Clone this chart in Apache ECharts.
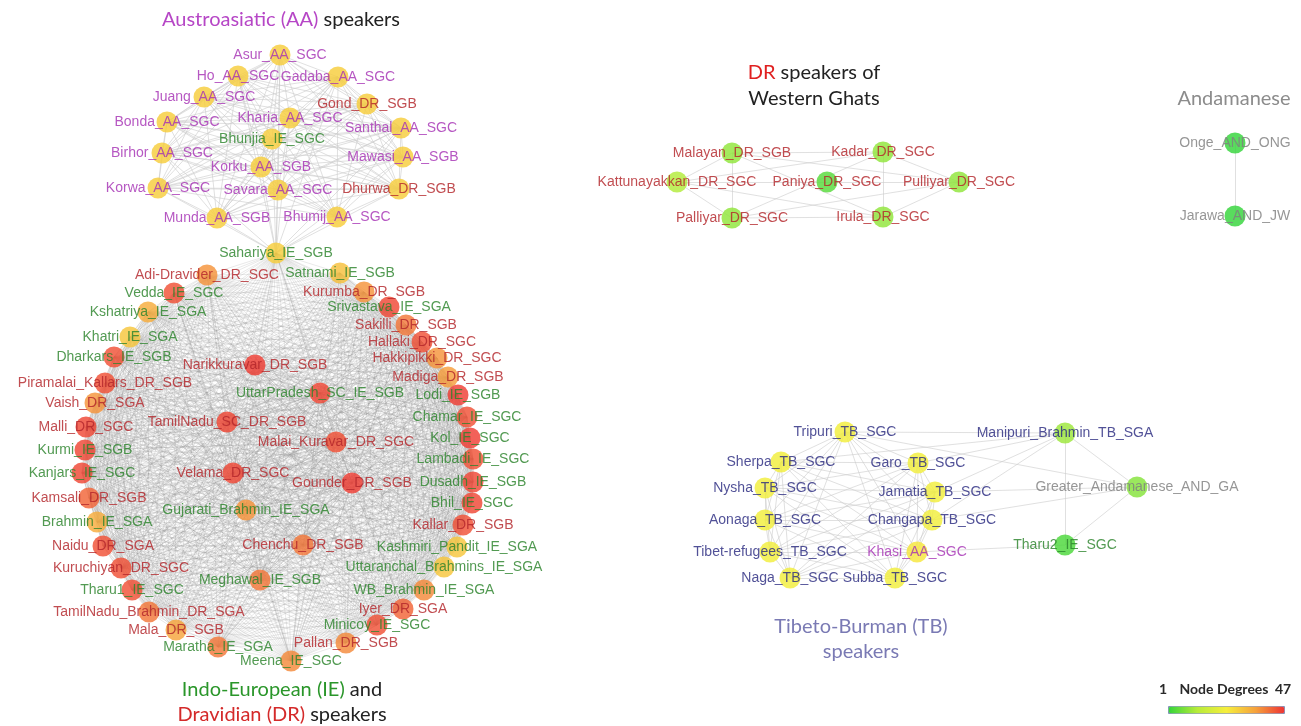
<!DOCTYPE html>
<html>
<head>
<meta charset="utf-8">
<script src="https://cdn.jsdelivr.net/npm/echarts@6/dist/echarts.min.js"></script>
<style>
  html, body { margin: 0; padding: 0; background: #fff; }
  #chart { width: 1301px; height: 726px; }
</style>
</head>
<body>
<div id="chart"></div>
<script>
// nodes: [name, x, y, degree] -- x/y are positions in the layout (pixels of the original figure)
const aaNodes = [
  ['Asur_AA_SGC', 280, 55, 29],
  ['Ho_AA_SGC', 238, 76, 29],
  ['Gadaba_AA_SGC', 338, 77, 29],
  ['Juang_AA_SGC', 204, 97, 29],
  ['Gond_DR_SGB', 367, 104, 29],
  ['Bonda_AA_SGC', 167, 122, 29],
  ['Kharia_AA_SGC', 290, 118, 29],
  ['Santhal_AA_SGC', 401, 128, 29],
  ['Bhunjia_IE_SGC', 272, 139, 29],
  ['Birhor_AA_SGC', 162, 153, 29],
  ['Mawasi_AA_SGB', 403, 157, 29],
  ['Korku_AA_SGB', 261, 167, 29],
  ['Korwa_AA_SGC', 158, 188, 29],
  ['Savara_AA_SGC', 278, 190, 29],
  ['Dhurwa_DR_SGB', 399, 189, 29],
  ['Munda_AA_SGB', 217, 218, 29],
  ['Bhumij_AA_SGC', 337, 217, 29],
]

const ieDrNodes = [
  ['Sahariya_IE_SGB', 276, 253, 29],
  ['Adi-Dravider_DR_SGC', 207, 275, 37],
  ['Satnami_IE_SGB', 340, 273, 31],
  ['Vedda_IE_SGC', 174, 293, 44],
  ['Kurumba_DR_SGB', 364, 292, 37],
  ['Kshatriya_IE_SGA', 148, 312, 34],
  ['Srivastava_IE_SGA', 389, 307, 45],
  ['Khatri_IE_SGA', 130, 337, 30],
  ['Sakilli_DR_SGB', 406, 325, 40],
  ['Hallaki_DR_SGC', 422, 342, 44],
  ['Dharkars_IE_SGB', 114, 357, 44],
  ['Narikkuravar_DR_SGB', 255, 365, 46],
  ['Hakkipikki_DR_SGC', 437, 358, 37],
  ['Piramalai_Kallars_DR_SGB', 105, 383, 44],
  ['Madiga_DR_SGB', 448, 377, 36],
  ['UttarPradesh_SC_IE_SGB', 320, 393, 45],
  ['Lodi_IE_SGB', 458, 395, 46],
  ['Vaish_DR_SGA', 95, 403, 37],
  ['Malli_DR_SGC', 86, 427, 45],
  ['TamilNadu_SC_DR_SGB', 227, 422, 45],
  ['Chamar_IE_SGC', 467, 417, 44],
  ['Malai_Kuravar_DR_SGC', 336, 442, 44],
  ['Kol_IE_SGC', 470, 438, 46],
  ['Kurmi_IE_SGB', 85, 450, 45],
  ['Lambadi_IE_SGC', 473, 459, 44],
  ['Kanjars_IE_SGC', 82, 473, 45],
  ['Velama_DR_SGC', 233, 473, 45],
  ['Gounder_DR_SGB', 352, 483, 46],
  ['Dusadh_IE_SGB', 473, 482, 45],
  ['Kamsali_DR_SGB', 89, 498, 42],
  ['Bhil_IE_SGC', 472, 503, 45],
  ['Gujarati_Brahmin_IE_SGA', 246, 510, 37],
  ['Brahmin_IE_SGA', 97, 522, 34],
  ['Kallar_DR_SGB', 463, 525, 44],
  ['Naidu_DR_SGA', 103, 546, 44],
  ['Chenchu_DR_SGB', 303, 545, 40],
  ['Kashmiri_Pandit_IE_SGA', 457, 547, 30],
  ['Kuruchiyan_DR_SGC', 121, 568, 44],
  ['Uttaranchal_Brahmins_IE_SGA', 444, 567, 30],
  ['Meghawal_IE_SGB', 260, 580, 40],
  ['Tharu1_IE_SGC', 132, 590, 44],
  ['WB_Brahmin_IE_SGA', 424, 590, 38],
  ['TamilNadu_Brahmin_DR_SGA', 149, 612, 40],
  ['Iyer_DR_SGA', 403, 609, 42],
  ['Mala_DR_SGB', 176, 630, 35],
  ['Minicoy_IE_SGC', 377, 625, 44],
  ['Maratha_IE_SGA', 218, 647, 40],
  ['Pallan_DR_SGB', 346, 643, 38],
  ['Meena_IE_SGC', 291, 661, 38],
]

const ghatsNodes = [
  ['Malayan_DR_SGB', 732, 153, 9],
  ['Kadar_DR_SGC', 883, 152, 9],
  ['Kattunayakkan_DR_SGC', 677, 182, 12],
  ['Paniya_DR_SGC', 827, 182, 4],
  ['Pulliyar_DR_SGC', 959, 182, 9],
  ['Palliyar_DR_SGC', 732, 218, 9],
  ['Irula_DR_SGC', 883, 217, 9],
]

const andNodes = [
  ['Onge_AND_ONG', 1235, 143, 1],
  ['Jarawa_AND_JW', 1235, 216, 1],
]

const tbNodes = [
  ['Tripuri_TB_SGC', 845, 432, 23],
  ['Manipuri_Brahmin_TB_SGA', 1065, 433, 10],
  ['Sherpa_TB_SGC', 781, 462, 23],
  ['Garo_TB_SGC', 918, 463, 23],
  ['Nysha_TB_SGC', 765, 488, 23],
  ['Jamatia_TB_SGC', 935, 492, 23],
  ['Greater_Andamanese_AND_GA', 1137, 487, 8],
  ['Aonaga_TB_SGC', 765, 520, 23],
  ['Changapa_TB_SGC', 932, 520, 23],
  ['Tibet-refugees_TB_SGC', 770, 552, 23],
  ['Khasi_AA_SGC', 917, 552, 25],
  ['Tharu2_IE_SGC', 1065, 545, 3],
  ['Naga_TB_SGC', 790, 578, 23],
  ['Subba_TB_SGC', 895, 578, 23],
]

// groups whose members are all linked to each other
const tbCore = [
  'Tripuri_TB_SGC', 'Sherpa_TB_SGC', 'Garo_TB_SGC', 'Nysha_TB_SGC', 'Jamatia_TB_SGC',
  'Aonaga_TB_SGC', 'Changapa_TB_SGC', 'Tibet-refugees_TB_SGC', 'Khasi_AA_SGC',
  'Naga_TB_SGC', 'Subba_TB_SGC',
]

// AA nodes tied to Sahariya
const sahariyaLinks = [
  'Asur_AA_SGC', 'Kharia_AA_SGC', 'Bhunjia_IE_SGC', 'Korku_AA_SGB', 'Savara_AA_SGC',
  'Munda_AA_SGB', 'Bhumij_AA_SGC', 'Korwa_AA_SGC', 'Dhurwa_DR_SGB', 'Mawasi_AA_SGB',
  'Birhor_AA_SGC', 'Santhal_AA_SGC', 'Ho_AA_SGC', 'Gadaba_AA_SGC',
]

const ghatsLinks = [
  ['Malayan_DR_SGB', 'Kadar_DR_SGC'],
  ['Malayan_DR_SGB', 'Kattunayakkan_DR_SGC'],
  ['Malayan_DR_SGB', 'Palliyar_DR_SGC'],
  ['Malayan_DR_SGB', 'Pulliyar_DR_SGC'],
  ['Malayan_DR_SGB', 'Irula_DR_SGC'],
  ['Kadar_DR_SGC', 'Kattunayakkan_DR_SGC'],
  ['Kadar_DR_SGC', 'Pulliyar_DR_SGC'],
  ['Kadar_DR_SGC', 'Irula_DR_SGC'],
  ['Kadar_DR_SGC', 'Palliyar_DR_SGC'],
  ['Kattunayakkan_DR_SGC', 'Paniya_DR_SGC'],
  ['Kattunayakkan_DR_SGC', 'Palliyar_DR_SGC'],
  ['Kattunayakkan_DR_SGC', 'Irula_DR_SGC'],
  ['Paniya_DR_SGC', 'Pulliyar_DR_SGC'],
  ['Palliyar_DR_SGC', 'Irula_DR_SGC'],
  ['Palliyar_DR_SGC', 'Pulliyar_DR_SGC'],
  ['Irula_DR_SGC', 'Pulliyar_DR_SGC'],
]

const tbLinks = [
  ['Tripuri_TB_SGC', 'Manipuri_Brahmin_TB_SGA'],
  ['Manipuri_Brahmin_TB_SGA', 'Garo_TB_SGC'],
  ['Manipuri_Brahmin_TB_SGA', 'Jamatia_TB_SGC'],
  ['Manipuri_Brahmin_TB_SGA', 'Changapa_TB_SGC'],
  ['Manipuri_Brahmin_TB_SGA', 'Sherpa_TB_SGC'],
  ['Manipuri_Brahmin_TB_SGA', 'Greater_Andamanese_AND_GA'],
  ['Manipuri_Brahmin_TB_SGA', 'Tharu2_IE_SGC'],
  ['Greater_Andamanese_AND_GA', 'Tharu2_IE_SGC'],
  ['Greater_Andamanese_AND_GA', 'Jamatia_TB_SGC'],
  ['Greater_Andamanese_AND_GA', 'Tripuri_TB_SGC'],
  ['Greater_Andamanese_AND_GA', 'Changapa_TB_SGC'],
  ['Tharu2_IE_SGC', 'Khasi_AA_SGC'],
]

const andLinks = [['Onge_AND_ONG', 'Jarawa_AND_JW']]

const familyColor = { AA: '#a632b4', DR: '#b3262b', IE: '#2c842c', TB: '#2b2b80', AND: '#7f7f7f' }
const degreeColors = ['#35d43a', '#b8ec3a', '#f6ee3c', '#f6a23c', '#ee3434']

function family(name) {
  return name.split('_').slice(-2)[0]
}

function allPairs(names) {
  const out = []
  for (let i = 0; i < names.length; i++) {
    for (let j = i + 1; j < names.length; j++) out.push([names[i], names[j]])
  }
  return out
}

const allNodes = [...aaNodes, ...ieDrNodes, ...ghatsNodes, ...andNodes, ...tbNodes]

const lightEdge = { color: '#cccccc', width: 1, opacity: 0.6 }
const denseEdge = { color: '#8c8c8c', width: 0.8, opacity: 0.24 }

const links = []
allPairs(aaNodes.map((d) => d[0])).forEach(([s, t]) => links.push({ source: s, target: t, lineStyle: lightEdge }))
sahariyaLinks.forEach((t) => links.push({ source: 'Sahariya_IE_SGB', target: t, lineStyle: lightEdge }))
allPairs(ieDrNodes.map((d) => d[0])).forEach(([s, t]) => links.push({ source: s, target: t, lineStyle: denseEdge }))
allPairs(tbCore).forEach(([s, t]) => links.push({ source: s, target: t, lineStyle: lightEdge }))
;[...ghatsLinks, ...tbLinks, ...andLinks].forEach(([s, t]) =>
  links.push({ source: s, target: t, lineStyle: lightEdge }),
)

// the graph view is fitted to the nodes' bounding box, so give it exactly that box
const xs = allNodes.map((d) => d[1])
const ys = allNodes.map((d) => d[2])
const minX = Math.min(...xs), maxX = Math.max(...xs)
const minY = Math.min(...ys), maxY = Math.max(...ys)

const chart = echarts.init(document.getElementById('chart'))

const titleFont = 'Lato, "Open Sans", sans-serif'

function titleText(x, y, text, fill, rich) {
  return {
    type: 'text', x, y,
    style: { text, align: 'center', verticalAlign: 'middle', fill, fontSize: 20, fontFamily: titleFont, rich },
  }
}

function legendText(x, text) {
  return {
    type: 'text', x, y: 689,
    style: { text, align: 'center', verticalAlign: 'middle', fill: '#2a2a2a', fontSize: 14, fontWeight: 'bold', fontFamily: titleFont },
  }
}

const option = {
  animation: false,
  backgroundColor: '#fff',
  visualMap: {
    type: 'continuous',
    min: 1,
    max: 47,
    seriesIndex: 0,
    orient: 'horizontal',
    left: 1168,
    top: 706,
    itemWidth: 7,
    itemHeight: 116,
    calculable: false,
    hoverLink: false,
    text: null,
    padding: 0,
    borderWidth: 1,
    borderColor: '#8090b8',
    inRange: { color: degreeColors },
  },
  graphic: [
    titleText(281, 20, '{p|Austroasiatic (AA)} {k|speakers}', '#222', {
      p: { fill: '#b646c6', fontSize: 20, fontFamily: titleFont },
      k: { fill: '#222', fontSize: 20, fontFamily: titleFont },
    }),
    titleText(814, 73, '{r|DR} {k|speakers of}', '#222', {
      r: { fill: '#e02020', fontSize: 20, fontFamily: titleFont },
      k: { fill: '#222', fontSize: 20, fontFamily: titleFont },
    }),
    titleText(814, 99, 'Western Ghats', '#222'),
    titleText(1234, 99, 'Andamanese', '#8c8c8c'),
    titleText(861, 627, 'Tibeto-Burman (TB)', '#7a7ab4'),
    titleText(861, 652, 'speakers', '#7a7ab4'),
    titleText(282, 690, '{g|Indo-European (IE)} {k|and}', '#222', {
      g: { fill: '#2a962a', fontSize: 20, fontFamily: titleFont },
      k: { fill: '#222', fontSize: 20, fontFamily: titleFont },
    }),
    titleText(282, 715, '{r|Dravidian (DR)} {k|speakers}', '#222', {
      r: { fill: '#d42a2a', fontSize: 20, fontFamily: titleFont },
      k: { fill: '#222', fontSize: 20, fontFamily: titleFont },
    }),
    legendText(1163, '1'),
    legendText(1224, 'Node Degrees'),
    legendText(1283, '47'),
  ],
  series: [
    {
      type: 'graph',
      layout: 'none',
      left: minX,
      top: minY,
      width: maxX - minX,
      height: maxY - minY,
      roam: false,
      symbol: 'circle',
      symbolSize: 21,
      itemStyle: { opacity: 0.82 },
      label: {
        show: true,
        position: 'inside',
        fontSize: 14,
        fontFamily: '"Liberation Sans", Arial, sans-serif',
      },
      emphasis: { disabled: true },
      data: allNodes.map(([name, x, y, deg]) => ({
        name,
        x,
        y,
        value: deg,
        label: { color: familyColor[family(name)] },
      })),
      links,
    },
  ],
}

chart.setOption(option)
</script>
</body>
</html>
